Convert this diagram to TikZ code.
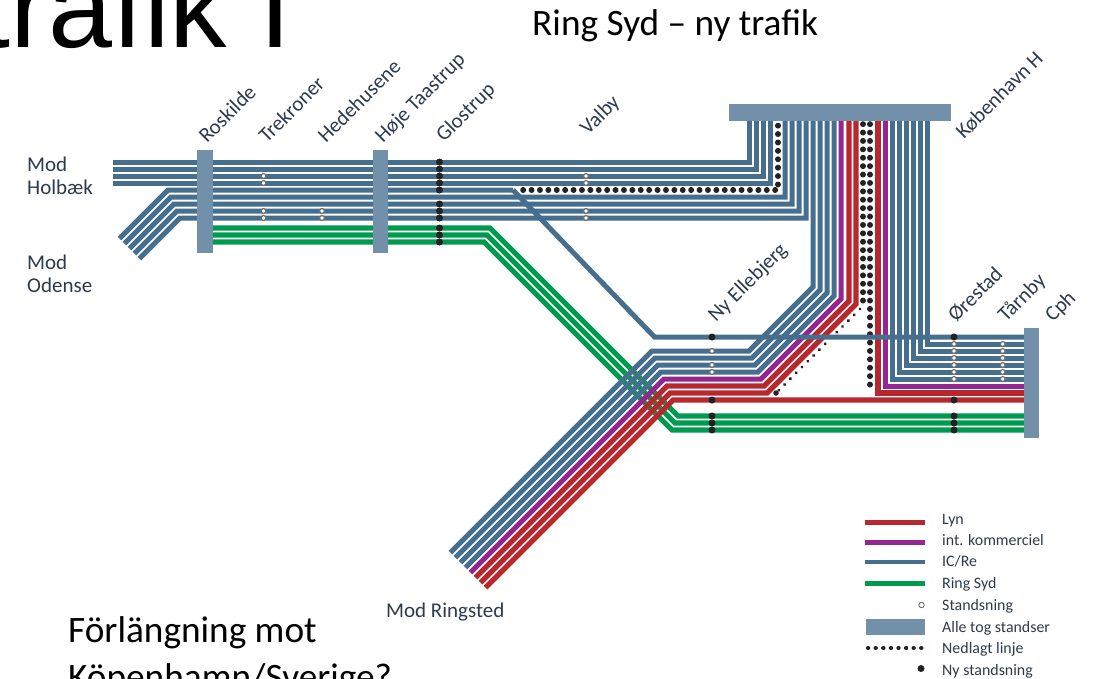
\documentclass[tikz,border=0pt]{standalone}
\usepackage{fontspec}
\setmainfont{Carlito}
\newfontfamily\titlefont{Liberation Sans}
\definecolor{icblue}{HTML}{466F8F}
\definecolor{barblue}{HTML}{7290AA}
\definecolor{lynred}{HTML}{B7282E}
\definecolor{intpurple}{HTML}{93278F}
\definecolor{ringgreen}{HTML}{009A4E}
\definecolor{dotblack}{HTML}{222222}
\definecolor{labelink}{HTML}{2B3A4C}
\tikzset{
  track/.style={line width=5pt,line cap=butt,line join=miter,miter limit=10},
  ic/.style={track,draw=icblue},
  lyn/.style={track,draw=lynred,line width=5.3pt},
  intk/.style={track,draw=intpurple},
  ring/.style={track,draw=ringgreen,line width=5.2pt},
  closed/.style={line width=5.6pt,draw=dotblack,line cap=round,dash pattern=on 0.3pt off 8.1pt},
  closedthin/.style={line width=3.2pt,draw=dotblack,line cap=round,dash pattern=on 0.1pt off 8.1pt},
  allstop/.style={fill=barblue,draw=none},
  openstop/.style={circle,draw=dotblack!65,fill=white,line width=1.2pt,inner sep=0pt,minimum size=4.8pt},
  newstop/.style={circle,fill=dotblack,draw=none,inner sep=0pt,minimum size=7pt},
  stationlabel/.style={rotate=45,anchor=base west,text=labelink,font=\fontsize{21}{21}\selectfont,inner sep=0pt},
  placelabel/.style={anchor=base west,text=labelink,font=\fontsize{21}{23}\selectfont,inner sep=0pt},
  legendtext/.style={anchor=base west,text=labelink,font=\fontsize{15.9}{15.9}\selectfont,inner sep=0pt},
  slidetext/.style={anchor=base west,text=black,inner sep=0pt,font=\fontsize{37.3}{37.3}\selectfont},
}
\begin{document}
\begin{tikzpicture}[x=1pt,y=-1pt]
\useasboundingbox (0,0) rectangle (1094,678);
\clip (0,0) rectangle (1094,678);
% slide text
\node[slidetext,font=\titlefont\fontsize{115}{115}\selectfont] (title) at (-22,47) {trafik I};
\node[slidetext] (ringtitle) at (532,35) {Ring Syd – ny trafik};
\node[slidetext] (forl) at (68,642) {Förlängning mot};
\node[slidetext] (kbh) at (68,689) {Köpenhamn/Sverige?};
% green first
\draw[ring] (213,228) -- (490,228) -- (678,416) -- (1025,416);
\draw[ring] (213,235) -- (487,235) -- (675,423) -- (1025,423);
\draw[ring] (213,242) -- (484,242) -- (672,430) -- (1025,430);
% Holbaek
\foreach \y/\x in {162/749.5,169/756.5,176/763.5,183/770.5}
  \draw[ic] (113,\y) -- (\x,\y) -- (\x,120);
% Odense
\draw[ic] (119.5,238.5) -- (168,190) -- (513,190);
\draw[ic] (124.5,243.5) -- (171,197) -- (785,197) -- (785,120);
\draw[ic] (129.5,248.5) -- (174,204) -- (792,204) -- (792,120);
\draw[ic] (134.5,253.5) -- (177,211) -- (799,211) -- (799,120);
\draw[ic] (139.5,258.5) -- (180,218) -- (806,218) -- (806,120);
% closed line
\draw[closed] (523,190) -- (778,190) -- (778,120);
\draw[closed] (863,124) -- (863,305);
\draw[closedthin] (860,309) -- (778,391);
\node[newstop,minimum size=5.5pt] (closedend) at (776,393) {};
\draw[closed] (870,124) -- (870,391);
% Ringsted group
\draw[ic] (450.5,552.5) -- (652,351) -- (749,351) -- (813,287) -- (813,120);
\draw[ic] (455.5,557.5) -- (655,358) -- (752,358) -- (820,290) -- (820,120);
\draw[ic] (460.5,562.5) -- (658,365) -- (755,365) -- (827,293) -- (827,120);
\draw[ic] (465.5,567.5) -- (661,372) -- (758,372) -- (834,296) -- (834,120);
\draw[intk] (470.5,572.5) -- (664,379) -- (761,379) -- (841,299) -- (841,120);
\draw[lyn] (475.5,577.5) -- (667,386) -- (764,386) -- (849,301) -- (849,120);
\draw[lyn] (480.5,582.5) -- (670,393) -- (767,393) -- (856,304) -- (856,120);
\draw[lyn] (485.5,587.5) -- (673,400) -- (1025,400);
% Right verticals
\draw[lyn] (878,120) -- (878,393) -- (1025,393);
\draw[intk] (885,120) -- (885,386) -- (1025,386);
\foreach \x/\y in {892/379,899/372,906/365,913/358,920/351,927/344}
  \draw[ic] (\x,120) -- (\x,\y) -- (1025,\y);
% Line across
\draw[ic] (513,190) -- (654.5,337) -- (1025,337);
% bars
\fill[allstop] (197,150) rectangle (213,253);
\fill[allstop] (373,150) rectangle (388,253);
\fill[allstop] (729,104) rectangle (951,120.5);
\fill[allstop] (1024,328) rectangle (1039,438);
% stops
\foreach \x/\y in {263.5/176,263.5/183,263.5/211,263.5/218,322/211,322/218,586/176,586/183,586/211,586/218,712/351,712/365,712/372,954/344,954/351,954/358,954/365,954/372,954/379,1002.7/344,1002.7/351,1002.7/358,1002.7/365,1002.7/372,1002.7/379}
  \node[openstop] at (\x,\y) {};
\foreach \x/\y in {439.5/162,439.5/169,439.5/176,439.5/183,439.5/190,439.5/204,439.5/211,439.5/218,439.5/228,439.5/235,439.5/242,712/337,712/400,712/416,712/423,712/430,954/337,954/400,954/416,954/423,954/430}
  \node[newstop] at (\x,\y) {};
% station labels
\node[stationlabel] (roskilde) at (207,144) {Roskilde};
\node[stationlabel] (trekroner) at (267,144) {Trekroner};
\node[stationlabel] (hedehusene) at (326,144) {Hedehusene};
\node[stationlabel] (hoeje) at (383,144) {Høje Taastrup};
\node[stationlabel] (glostrup) at (444,143) {Glostrup};
\node[stationlabel] (valby) at (588,136) {Valby};
\node[stationlabel] (koebenhavn) at (964,140) {København H};
\node[stationlabel] (nyelle) at (716,323) {Ny Ellebjerg};
\node[stationlabel] (oerestad) at (956,323) {Ørestad};
\node[stationlabel] (taarnby) at (1006,323) {Tårnby};
\node[stationlabel] (cph) at (1053,323) {Cph};
\node[placelabel,align=left,anchor=north west] (holbaek) at (27,156.5) {Mod\\Holbæk};
\node[placelabel,align=left,anchor=north west] (odense) at (27,255) {Mod\\Odense};
\node[placelabel] (ringsted) at (386,617) {Mod Ringsted};
% legend
\draw[lyn,line width=5pt] (865,522) -- (925,522);
\draw[intk,line width=5pt] (865,542) -- (925,542);
\draw[ic,line width=4.5pt] (865,562) -- (925,562);
\draw[ring,line width=5pt] (865,583) -- (925,583);
\node[circle,draw=dotblack!70,fill=white,line width=0.8pt,inner sep=0pt,minimum size=5.5pt] (legopen) at (921.5,605) {};
\fill[allstop] (866,619) rectangle (925,635);
\draw[line width=4.2pt,draw=dotblack,line cap=round,dash pattern=on 0.2pt off 7.4pt] (868,648) -- (925,648);
\node[newstop] (legnew) at (921,668.5) {};
\node[legendtext] (l1) at (942,524) {Lyn};
\node[legendtext] (l2) at (942,545) {int. kommerciel};
\node[legendtext] (l3) at (942,566) {IC/Re};
\node[legendtext] (l4) at (942,588) {Ring Syd};
\node[legendtext] (l5) at (942,610) {Standsning};
\node[legendtext] (l6) at (942,632) {Alle tog standser};
\node[legendtext] (l7) at (942,653) {Nedlagt linje};
\node[legendtext] (l8) at (942,675) {Ny standsning};
\end{tikzpicture}
\end{document}
